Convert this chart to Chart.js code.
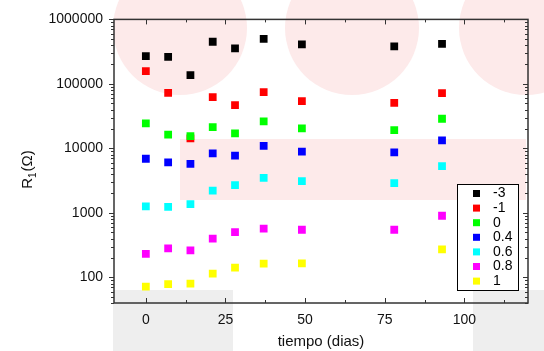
<!DOCTYPE html>
<html>
<head>
<meta charset="utf-8">
<script src="https://cdn.jsdelivr.net/npm/chart.js@4.4.1/dist/chart.umd.min.js"></script>
<style>
  body { margin: 0; background: #fff; }
  #wrap { position: relative; width: 544px; height: 351px; overflow: hidden; }
  .bg { position: absolute; }
  .circ { border-radius: 50%; background: #fdeaea; width: 134px; height: 134px; top: -39px; }
  canvas { position: absolute; left: 0; top: 0; }
</style>
</head>
<body>
<div id="wrap">
  <!-- fondo (marcas de agua) -->
  <div class="bg circ" style="left:113px"></div>
  <div class="bg circ" style="left:285px"></div>
  <div class="bg circ" style="left:459px"></div>
  <div class="bg" style="left:180px;top:139px;width:346px;height:61px;background:#fdeaea"></div>
  <div class="bg" style="left:113px;top:290px;width:120px;height:61px;background:#eeeeee"></div>
  <div class="bg" style="left:473px;top:290px;width:71px;height:61px;background:#eeeeee"></div>
  <canvas id="c" width="544" height="351"></canvas>
</div>
<script>
// datos
const dias = [0, 7, 14, 21, 28, 37, 49, 78, 93];
const r_m3 = [270000, 263000, 137000, 450000, 355000, 500000, 410000, 381000, 418000];
const r_m1 = [158000, 72800, 14300, 62400, 46900, 74600, 54000, 50900, 72000];
const r_0  = [24400, 16300, 15500, 21400, 17100, 26200, 20400, 19200, 28800];
const r_04 = [6900, 6070, 5770, 8360, 7690, 10970, 8870, 8670, 13300];
const r_06 = [1259, 1240, 1368, 2203, 2700, 3500, 3112, 2900, 5320];
const r_08 = [232, 281, 262, 397, 504, 568, 547, 547, 902];
const r_1  = [71.5, 78.7, 79.6, 113.8, 141, 163, 165, null, 272];

const etiquetas = ['-3', '-1', '0', '0.4', '0.6', '0.8', '1'];
const colores = ['#000000', '#ff0000', '#00ff00', '#0000ff', '#00ffff', '#ff00ff', '#ffff00'];
const series = [r_m3, r_m1, r_0, r_04, r_06, r_08, r_1];

const xTicks = [0, 25, 50, 75, 100];
const xMinor = [12.5, 37.5, 62.5, 87.5, 112.5];
const yTicks = [100, 1000, 10000, 100000, 1000000];

const FONT = "'Liberation Sans', Arial, sans-serif";
const AXIS = '#333333';

// ejes con marcas tipo Origin + titulo Y con subindice + leyenda en recuadro
const ejesPlugin = {
  id: 'ejes',
  afterDraw(chart) {
    const ctx = chart.ctx;
    const a = chart.chartArea;
    const xs = chart.scales.x, ys = chart.scales.y;
    ctx.save();
    ctx.strokeStyle = AXIS;
    ctx.lineWidth = 1.5;
    ctx.strokeRect(a.left, a.top, a.right - a.left, a.bottom - a.top);
    ctx.lineWidth = 1;
    ctx.beginPath();
    const xt = (v, len) => {
      const px = Math.round(xs.getPixelForValue(v)) + 0.5;
      ctx.moveTo(px, a.bottom); ctx.lineTo(px, a.bottom - len);
      ctx.moveTo(px, a.top); ctx.lineTo(px, a.top + len);
    };
    xTicks.forEach(v => xt(v, 5));
    xMinor.forEach(v => xt(v, 3));
    for (let e = 1; e <= 6; e++) {
      for (let m = 1; m <= 9; m++) {
        const v = m * Math.pow(10, e);
        if (v < ys.min || v > ys.max) continue;
        const len = m === 1 ? 5 : 3;
        const py = Math.round(ys.getPixelForValue(v)) + 0.5;
        ctx.moveTo(a.left, py); ctx.lineTo(a.left - len, py);
        ctx.moveTo(a.right, py); ctx.lineTo(a.right - len, py);
      }
    }
    ctx.stroke();

    // titulo eje Y: R1(Ω)
    ctx.fillStyle = '#111';
    ctx.translate(28, 170);
    ctx.rotate(-Math.PI / 2);
    ctx.textBaseline = 'middle';
    ctx.font = '15px ' + FONT;
    const w1 = ctx.measureText('R').width;
    ctx.font = '10px ' + FONT;
    const w2 = ctx.measureText('1').width;
    ctx.font = '15px ' + FONT;
    const w3 = ctx.measureText('(Ω)').width;
    let x0 = -(w1 + w2 + w3) / 2;
    ctx.textAlign = 'left';
    ctx.fillText('R', x0, 0);
    ctx.font = '10px ' + FONT;
    ctx.fillText('1', x0 + w1, 5);
    ctx.font = '15px ' + FONT;
    ctx.fillText('(Ω)', x0 + w1 + w2 + 1, 0);
    ctx.setTransform(1, 0, 0, 1, 0, 0);

    // leyenda
    const bw = 61, bh = 106;
    const bx = a.right - 10 - bw, by = a.bottom - 13 - bh;
    ctx.fillStyle = '#fff';
    ctx.fillRect(bx, by, bw, bh);
    ctx.strokeStyle = '#000';
    ctx.lineWidth = 1;
    ctx.strokeRect(bx + 0.5, by + 0.5, bw, bh);
    ctx.font = '14px ' + FONT;
    ctx.textBaseline = 'middle';
    etiquetas.forEach((t, i) => {
      const cy = by + 9.5 + i * 14.6;
      ctx.fillStyle = colores[i];
      ctx.fillRect(bx + 16, cy - 3.5, 7, 7);
      ctx.fillStyle = '#000';
      ctx.fillText(t, bx + 36, cy);
    });
    ctx.restore();
  }
};

const datasets = series.map((s, i) => ({
  label: etiquetas[i],
  data: dias.map((d, j) => ({ x: d, y: s[j] })).filter(p => p.y !== null),
  backgroundColor: colores[i],
  borderWidth: 0,
  pointStyle: 'rect',
  pointRadius: 5.5,
  order: series.length - i
}));

new Chart(document.getElementById('c'), {
  type: 'scatter',
  data: { datasets },
  options: {
    responsive: false,
    animation: false,
    layout: { padding: { top: 19, right: 16, left: 0, bottom: 0 } },
    plugins: { legend: { display: false }, tooltip: { enabled: false } },
    scales: {
      x: {
        type: 'linear',
        min: -10, max: 120,
        grid: { display: false, drawTicks: false },
        border: { display: false },
        afterBuildTicks: s => { s.ticks = xTicks.map(v => ({ value: v })); },
        afterFit: s => { s.height = 48; },
        ticks: { padding: 9, color: '#111', font: { family: FONT, size: 14 }, maxRotation: 0 },
        title: { display: true, text: 'tiempo (dias)', color: '#111', font: { family: FONT, size: 15 }, padding: { top: 0, bottom: 0 } }
      },
      y: {
        type: 'logarithmic',
        min: 40, max: 1000000,
        grid: { display: false, drawTicks: false },
        border: { display: false },
        afterBuildTicks: s => { s.ticks = yTicks.map(v => ({ value: v })); },
        afterFit: s => { s.width = 114; },
        ticks: { padding: 11, color: '#111', font: { family: FONT, size: 14 }, callback: v => String(v) }
      }
    }
  },
  plugins: [ejesPlugin]
});
</script>
</body>
</html>
